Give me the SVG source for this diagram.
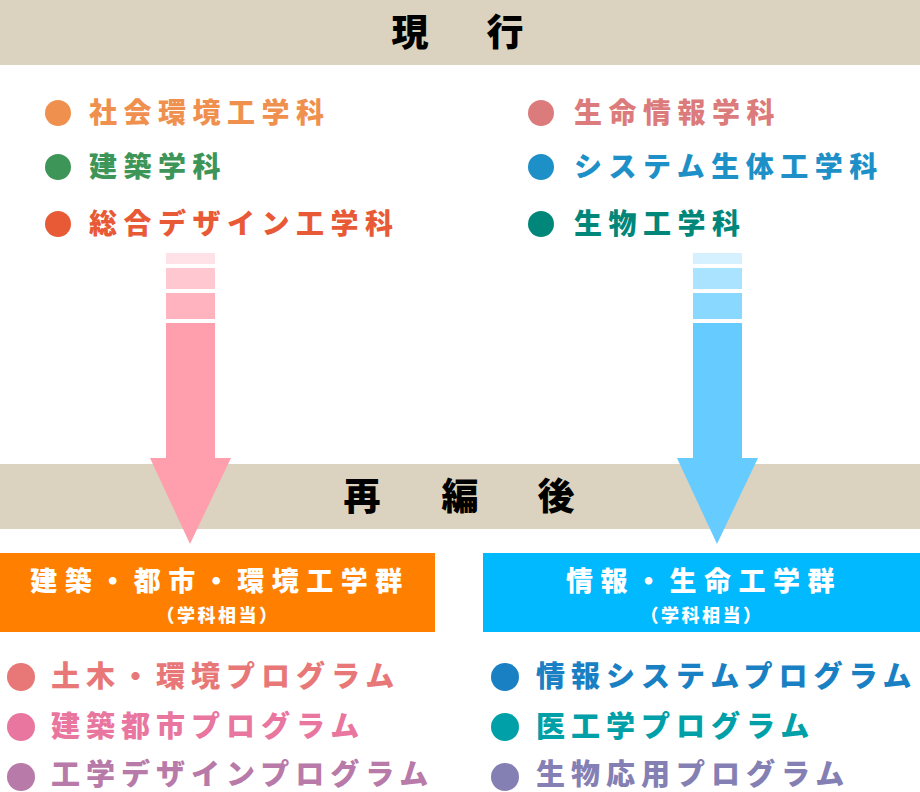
<svg xmlns="http://www.w3.org/2000/svg" width="920" height="792" viewBox="0 0 920 792">
<style>
text{font-family:"Noto Sans CJK JP","Noto Sans CJK SC",sans-serif;font-weight:900}
.hd{font-size:37px;fill:#000;text-anchor:middle}
.cur{font-size:28px;letter-spacing:6.5px}
.prog{font-size:29px;letter-spacing:6px}
.bt{font-size:27px;letter-spacing:7.5px;fill:#fff;text-anchor:middle}
.bs{font-size:18px;letter-spacing:2.5px;fill:#fff;text-anchor:middle}
</style>
<rect width="920" height="792" fill="#fff"/>
<g id="band-current">
<rect x="0" y="0" width="920" height="65" fill="#dbd3bf"/>
<text class="hd" x="410" y="46">現</text>
<text class="hd" x="505" y="46">行</text>
</g>
<g id="current-left">
<circle cx="58" cy="113" r="13" fill="#f0904e"/>
<text class="cur" x="89" y="123" fill="#f0904e">社会環境工学科</text>
<circle cx="58" cy="167" r="13" fill="#3d9657"/>
<text class="cur" x="89" y="177" fill="#3d9657">建築学科</text>
<circle cx="58" cy="224" r="13" fill="#e85a35"/>
<text class="cur" x="89" y="234" fill="#e85a35">総合デザイン工学科</text>
</g>
<g id="current-right">
<circle cx="541" cy="113" r="13" fill="#dc7b7b"/>
<text class="cur" x="574" y="123" fill="#dc7b7b">生命情報学科</text>
<circle cx="541" cy="167" r="13" fill="#1e90c8"/>
<text class="cur" x="574" y="177" fill="#1e90c8">システム生体工学科</text>
<circle cx="541" cy="224" r="13" fill="#00877a"/>
<text class="cur" x="574" y="234" fill="#00877a">生物工学科</text>
</g>
<g id="band-after">
<rect x="0" y="464" width="920" height="65" fill="#dbd3bf"/>
</g>
<g id="connectors">
<rect x="166" y="253" width="49" height="11" fill="#ffe2e7"/>
<rect x="166" y="268" width="49" height="21" fill="#ffc8d1"/>
<rect x="166" y="293" width="49" height="26" fill="#ffb3bf"/>
<polygon points="166,323 215,323 215,458 231,458 190,544 150,458 166,458" fill="#ff9fad"/>
<rect x="693" y="253" width="49" height="11" fill="#d5f0ff"/>
<rect x="693" y="268" width="49" height="21" fill="#aae3ff"/>
<rect x="693" y="293" width="49" height="26" fill="#88d8ff"/>
<polygon points="693,323 742,323 742,458 758,458 717,544 677,458 693,458" fill="#66ccff"/>
</g>
<g id="band-after-label">
<text class="hd" x="362" y="510">再</text>
<text class="hd" x="460" y="510">編</text>
<text class="hd" x="556" y="510">後</text>
</g>
<g id="group-left">
<rect x="0" y="553" width="435" height="79" fill="#ff7f00"/>
<text class="bt" x="220" y="591">建築・都市・環境工学群</text>
<text class="bs" x="218" y="622">（学科相当）</text>
</g>
<g id="group-right">
<rect x="483" y="553" width="437" height="79" fill="#00b9ff"/>
<text class="bt" x="704" y="591">情報・生命工学群</text>
<text class="bs" x="702" y="622">（学科相当）</text>
</g>
<g id="programs-left">
<circle cx="21" cy="677" r="14" fill="#e87878"/>
<text class="prog" x="51" y="687" fill="#e87878">土木・環境プログラム</text>
<circle cx="21" cy="727" r="14" fill="#e8769f"/>
<text class="prog" x="51" y="737" fill="#e8769f">建築都市プログラム</text>
<circle cx="21" cy="777" r="14" fill="#b87aa8"/>
<text class="prog" x="51" y="785" fill="#b87aa8">工学デザインプログラム</text>
</g>
<g id="programs-right">
<circle cx="505" cy="677" r="14" fill="#1a80c4"/>
<text class="prog" x="536" y="687" fill="#1a80c4">情報システムプログラム</text>
<circle cx="505" cy="727" r="14" fill="#00a0a8"/>
<text class="prog" x="536" y="737" fill="#00a0a8">医工学プログラム</text>
<circle cx="505" cy="777" r="14" fill="#8580b4"/>
<text class="prog" x="536" y="785" fill="#8580b4">生物応用プログラム</text>
</g>
</svg>
